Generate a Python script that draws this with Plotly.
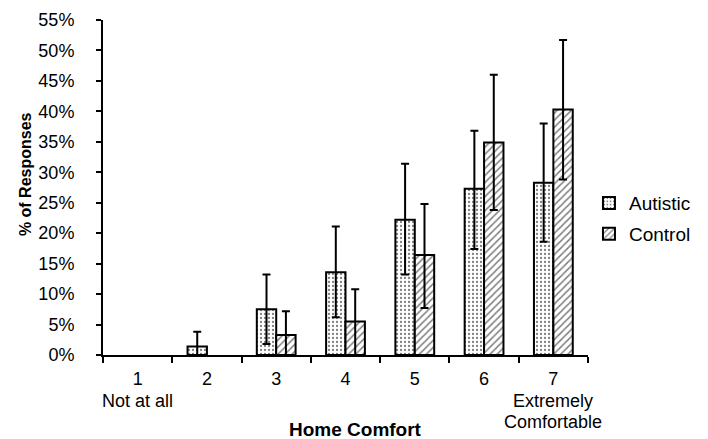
import plotly.graph_objects as go

categories = ["1", "2", "3", "4", "5", "6", "7"]
tick_labels = ["1", "2", "3", "4", "5", "6", "7"]
anchor_labels = {"1": ["Not at all"], "7": ["Extremely", "Comfortable"]}

autistic = [None, 1.4, 7.5, 13.6, 22.2, 27.3, 28.3]
autistic_err_hi = [None, 2.4, 5.7, 7.5, 9.2, 9.5, 9.7]
autistic_err_lo = [None, 1.4, 5.7, 7.4, 9.0, 9.9, 9.7]

control = [None, None, 3.3, 5.5, 16.4, 34.9, 40.3]
control_err_hi = [None, None, 3.9, 5.3, 8.4, 11.1, 11.4]
control_err_lo = [None, None, 3.3, 5.5, 8.7, 11.1, 11.5]

font_family = "Liberation Sans, Arial, sans-serif"
FS = 18

fig = go.Figure()
fig.add_trace(go.Bar(
    name="Autistic", x=categories, y=autistic, legendgroup="a",
    marker=dict(color="white", line=dict(color="black", width=2),
                pattern=dict(shape=".", fgcolor="black", bgcolor="white", size=4, solidity=0.25)),
    error_y=dict(type="data", array=autistic_err_hi, arrayminus=autistic_err_lo,
                 color="black", thickness=2, width=4),
))
fig.add_trace(go.Bar(
    name="Control", x=categories, y=control, legendgroup="b",
    marker=dict(color="white", line=dict(color="black", width=2),
                pattern=dict(shape="/", fgcolor="black", bgcolor="white", size=5, solidity=0.3)),
    error_y=dict(type="data", array=control_err_hi, arrayminus=control_err_lo,
                 color="black", thickness=2, width=4),
))

annotations = []
for cat, lines in anchor_labels.items():
    for i, line in enumerate(lines):
        annotations.append(dict(
            x=categories.index(cat), xref="x", y=0, yref="paper", text=line, showarrow=False,
            yanchor="middle", xanchor="center", yshift=-46 - 21 * i,
            font=dict(size=FS, family=font_family, color="black"),
        ))
annotations.append(dict(
    x=0.52, xref="paper", y=0, yref="paper", text="<b>Home Comfort</b>",
    showarrow=False, yanchor="middle", xanchor="center", yshift=-74,
    font=dict(size=19, family=font_family, color="black"),
))
annotations.append(dict(
    x=0, xref="paper", y=0.54, yref="paper", text="<b>% of Responses</b>",
    showarrow=False, textangle=-90, xanchor="center", yanchor="middle", xshift=-78,
    font=dict(size=16, family=font_family, color="black"),
))

fig.update_layout(
    width=708, height=439,
    margin=dict(l=103, r=104, t=20, b=84),
    paper_bgcolor="white", plot_bgcolor="white",
    barmode="group", bargap=0.44, bargroupgap=0,
    font=dict(family=font_family, size=FS, color="black"),
    showlegend=True,
    legend=dict(x=(605 - 103) / 501, y=0.407, xanchor="left", yanchor="middle",
                font=dict(size=19), itemwidth=30, traceorder="grouped", tracegroupgap=3,
                borderwidth=0, bgcolor="rgba(0,0,0,0)"),
    annotations=annotations,
    xaxis=dict(
        tickmode="array", tickvals=categories, ticktext=tick_labels, tickangle=0,
        tickson="boundaries", ticks="outside", ticklen=6, tickcolor="black", tickwidth=2,
        ticklabelstandoff=6, range=[-0.5, 6.5],
        showline=True, linecolor="black", linewidth=2, showgrid=False,
        tickfont=dict(size=FS), automargin=False,
    ),
    yaxis=dict(
        range=[0, 55], dtick=5, ticksuffix="%",
        ticks="outside", ticklen=5, tickcolor="black", tickwidth=2,
        ticklabelstandoff=18,
        showline=True, linecolor="black", linewidth=2, showgrid=False, zeroline=False,
        tickfont=dict(size=FS), automargin=False,
    ),
)

fig.write_html("out.html", config={"displayModeBar": False},
               post_script="document.body.style.margin='0';document.body.style.padding='0';")
